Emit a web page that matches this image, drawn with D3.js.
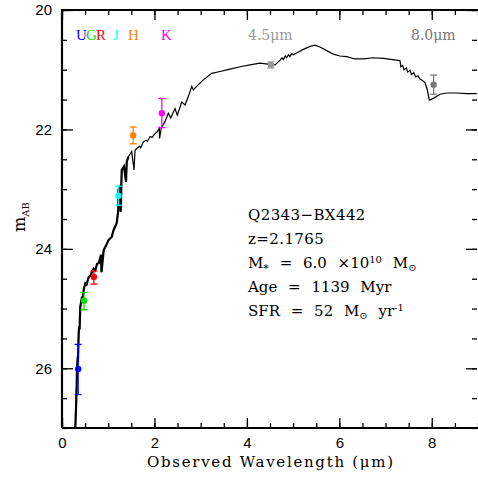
<!DOCTYPE html>
<html><head><meta charset="utf-8">
<script src="https://cdn.jsdelivr.net/npm/d3@7"></script>
<style>body{margin:0;background:#fff}svg{display:block}</style>
</head><body>
<svg id="c" width="478" height="478"></svg>
<script>
// SED model (observed wavelength in micron, AB magnitude)
const sedWave = [0.288,0.31,0.325,0.34,0.345,0.361,0.37,0.38,0.396,0.433,0.45,0.47,0.504,0.53,0.578,0.62,0.65,0.686,0.72,0.76,0.794,0.844,0.855,0.902,0.95,1.01,1.075,1.119,1.183,1.218,1.22,1.255,1.27,1.292,1.341,1.385,1.40,1.434,1.508,1.558,1.58,1.616,1.68,1.70,1.759,1.82,1.85,1.904,1.95,2.012,2.06,2.105,2.11,2.15,2.228,2.30,2.352,2.445,2.495,2.59,2.661,2.733,2.806,2.841,2.913,3.057,3.239,3.418,3.635,3.851,4.067,4.284,4.5,4.608,4.72,4.76,4.79,4.83,4.86,4.90,4.93,4.97,5.0,5.078,5.221,5.366,5.474,5.582,5.727,5.870,6.015,6.160,6.339,6.519,6.735,6.952,7.241,7.313,7.33,7.37,7.40,7.45,7.48,7.53,7.56,7.61,7.65,7.70,7.75,7.80,7.854,7.904,7.947,8.033,8.178,8.323,8.540,8.756,8.972];
const sedMag  = [27.0,26.5,26.03,25.8,25.9,25.41,25.3,25.35,24.97,24.80,24.85,24.68,24.58,24.6,24.47,24.45,24.38,24.33,24.36,24.25,24.24,24.10,24.39,24.02,23.95,23.85,23.80,23.68,23.57,23.35,23.01,22.96,23.38,22.68,22.62,22.88,22.55,22.46,22.37,22.68,22.35,22.32,22.28,22.31,22.21,22.18,22.2,22.12,22.13,22.07,22.04,21.98,22.15,21.97,21.87,21.73,21.81,21.65,21.76,21.54,21.59,21.45,21.28,21.34,21.28,21.17,21.06,21.03,20.99,20.95,20.92,20.89,20.91,20.92,20.84,20.80,20.83,20.77,20.80,20.75,20.78,20.73,20.75,20.72,20.66,20.61,20.59,20.62,20.68,20.74,20.77,20.78,20.82,20.82,20.80,20.81,20.84,20.85,20.95,20.93,21.0,20.97,21.04,21.01,21.08,21.05,21.12,21.10,21.16,21.18,21.22,21.34,21.51,21.48,21.41,21.39,21.39,21.40,21.40];

// photometry
const bands   = ["U","G","R","J","H","K","4.5","8.0"];
const photWave = [0.35,0.476,0.69,1.22,1.54,2.16,4.52,8.04];
const photMag  = [26.01,24.87,24.47,23.11,22.1,21.73,20.92,21.25];
const photErrLo = [25.6,24.73,24.37,22.95,21.96,21.48,20.87,21.09];
const photErrHi = [26.44,25.02,24.59,23.27,22.24,21.97,20.97,21.41];
const photColor = ["#0000ff","#00e000","#ff0000","#00ffff","#ff8000","#ff00ff","#999999","#777777"];

const xMajor = [0,2,4,6,8];
const yMajor = [20,22,24,26];

const svg = d3.select("#c");
const L=62,R=478,T=10,B=428;
const x = d3.scaleLinear().domain([0,9]).range([L,R]);
const y = d3.scaleLinear().domain([20,27]).range([T,B]);

const minorX = d3.range(0,9.01,0.5);
const minorY = d3.range(20,27.01,0.5);

function styleAxis(g){
  g.select(".domain").remove();
  g.selectAll(".tick line").attr("stroke","#000").attr("stroke-width",1.3);
}
// bottom
svg.append("g").attr("transform",`translate(0,${B})`)
  .call(d3.axisBottom(x).tickValues(minorX).tickSize(-5).tickFormat("")).call(styleAxis);
svg.append("g").attr("transform",`translate(0,${B})`)
  .call(d3.axisBottom(x).tickValues(xMajor).tickSize(-10).tickPadding(20).tickFormat(d3.format("d")))
  .call(styleAxis)
  .call(g=>g.selectAll("text").attr("font-family","Liberation Sans, Arial, sans-serif").attr("font-size",15).attr("fill","#000").attr("dy","0"));
// top
svg.append("g").attr("transform",`translate(0,${T})`)
  .call(d3.axisTop(x).tickValues(minorX).tickSize(-5).tickFormat("")).call(styleAxis);
svg.append("g").attr("transform",`translate(0,${T})`)
  .call(d3.axisTop(x).tickValues(xMajor).tickSize(-10).tickFormat("")).call(styleAxis);
// left
svg.append("g").attr("transform",`translate(${L},0)`)
  .call(d3.axisLeft(y).tickValues(minorY).tickSize(-5).tickFormat("")).call(styleAxis);
svg.append("g").attr("transform",`translate(${L},0)`)
  .call(d3.axisLeft(y).tickValues(yMajor).tickSize(-11).tickPadding(10).tickFormat(d3.format("d")))
  .call(styleAxis)
  .call(g=>g.selectAll("text").attr("font-family","Liberation Sans, Arial, sans-serif").attr("font-size",15).attr("fill","#000"));
// right
svg.append("g").attr("transform",`translate(${R-1},0)`)
  .call(d3.axisRight(y).tickValues(minorY).tickSize(-5).tickFormat("")).call(styleAxis);
svg.append("g").attr("transform",`translate(${R-1},0)`)
  .call(d3.axisRight(y).tickValues(yMajor).tickSize(-11).tickFormat("")).call(styleAxis);

// frame
svg.append("path").attr("d",`M${L},${B}V${T}H${R}M${L},${B}H${R}`)
  .attr("fill","none").attr("stroke","#000").attr("stroke-width",2.2);

// SED line
svg.append("clipPath").attr("id","pc").append("rect")
  .attr("x",L).attr("y",T).attr("width",R-L).attr("height",B-T);
const sed = sedWave.map((w,i)=>[w,sedMag[i]]);
const lineGen = d3.line().x(d=>x(d[0])).y(d=>y(d[1]));
svg.append("path").datum(sed).attr("clip-path","url(#pc)")
  .attr("d",lineGen)
  .attr("fill","none").attr("stroke","#000").attr("stroke-width",1.2);
// dense absorption features make the blue end look thicker
svg.append("path").datum(sed.filter(d=>d[0]<1.45)).attr("clip-path","url(#pc)")
  .attr("d",lineGen)
  .attr("fill","none").attr("stroke","#000").attr("stroke-width",2.2);

// photometry error bars + points
const pts = svg.append("g");
photWave.forEach((w,i)=>{
  const c=photColor[i], cx=x(w);
  pts.append("line").attr("x1",cx).attr("x2",cx).attr("y1",y(photErrLo[i])).attr("y2",y(photErrHi[i])).attr("stroke",c).attr("stroke-width",1.3);
  [photErrLo[i],photErrHi[i]].forEach(v=>{
    pts.append("line").attr("x1",cx-3.5).attr("x2",cx+3.5).attr("y1",y(v)).attr("y2",y(v)).attr("stroke",c).attr("stroke-width",1.3);
  });
  pts.append("circle").attr("cx",cx).attr("cy",y(photMag[i])).attr("r",3.2).attr("fill",c);
});

// band labels
const serif = "DejaVu Serif, serif";
const bandLabels = [["U",76,"#0000ff"],["G",86,"#00e000"],["R",96,"#ff0000"],["J",113,"#00ffff"],["H",128,"#ff8000"],["K",161,"#ff00ff"]];
bandLabels.forEach(([t,px,c])=>{
  svg.append("text").attr("x",px).attr("y",40).attr("font-family","Liberation Serif, serif").attr("font-size",15).attr("fill",c).text(t);
});
svg.append("text").attr("x",248).attr("y",40).attr("font-family",serif).attr("font-size",14).attr("fill","#999").text("4.5μm");
svg.append("text").attr("x",411).attr("y",40).attr("font-family",serif).attr("font-size",14).attr("fill","#777").text("8.0μm");

// axis titles
svg.append("text").attr("x",147).attr("y",467).attr("font-family",serif).attr("font-size",15).attr("fill","#000")
  .attr("textLength",246).text("Observed Wavelength (μm)");
const yl = svg.append("text").attr("transform","translate(25,232) rotate(-90)").attr("font-family",serif).attr("font-size",16).attr("fill","#000");
yl.append("tspan").text("m");
yl.append("tspan").attr("font-size",10).attr("dy",4).text("AB");

// annotation
const ax=248, fs=15;
function line(yy){return svg.append("text").attr("x",ax).attr("y",yy).attr("font-family",serif).attr("font-size",fs).attr("fill","#000").attr("word-spacing",6);}
line(220).attr("letter-spacing",0.4).text("Q2343−BX442");
line(244).attr("letter-spacing",0.4).text("z=2.1765");
const l3=line(268);
l3.append("tspan").text("M");
l3.append("tspan").attr("font-size",11).attr("dy",4).text("*");
l3.append("tspan").attr("dy",-4).text(" = 6.0 ×10");
l3.append("tspan").attr("font-size",10).attr("dy",-5).text("10");
l3.append("tspan").attr("dy",5).text(" M");
l3.append("tspan").attr("font-size",10).attr("dy",3).text("⊙");
line(292).text("Age = 1139 Myr");
const l5=line(316);
l5.append("tspan").text("SFR = 52 M");
l5.append("tspan").attr("font-size",10).attr("dy",3).text("⊙");
l5.append("tspan").attr("dy",-3).text(" yr");
l5.append("tspan").attr("font-size",10).attr("dy",-5).text("-1");
</script>
</body></html>
